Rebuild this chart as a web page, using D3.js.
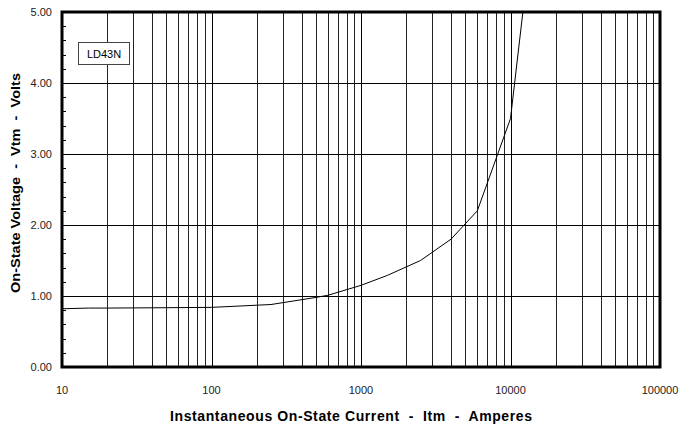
<!DOCTYPE html>
<html><head><meta charset="utf-8">
<script src="https://d3js.org/d3.v7.min.js"></script>
<style>body{margin:0;background:#fff}svg text{font-family:"Liberation Sans",Arial,sans-serif;white-space:pre}</style>
</head><body><svg id="c" width="680" height="427"></svg>
<script>
const current = [10,15,20,50,100,250,500,600,1000,1500,2500,4000,6000,10000,12100];
const voltage = [0.82,0.83,0.83,0.835,0.84,0.88,0.98,1.01,1.15,1.29,1.50,1.80,2.2,3.5,5.0];
const xTicks = [10,100,1000,10000,100000];
const yTicks = [0,1,2,3,4,5];
const deviceLabel = "LD43N";
const xTitle = "Instantaneous On-State Current  -  Itm  -  Amperes";
const yTitle = "On-State Voltage  -  Vtm  -  Volts";

const svg = d3.select("#c");
const L=62,R=660,T=12,B=367;
const x = d3.scaleLog().domain([10,100000]).range([L,R]);
const y = d3.scaleLinear().domain([0,5]).range([B,T]);

// vertical grid
const minor=[];
for(let d=10; d<100000; d*=10) for(let k=2;k<=9;k++) minor.push(d*k);
svg.append("g").selectAll("line").data(minor).join("line")
  .attr("x1",d=>Math.round(x(d))+0.5).attr("x2",d=>Math.round(x(d))+0.5)
  .attr("y1",T).attr("y2",B).attr("stroke","#222").attr("stroke-width",1);
svg.append("g").selectAll("line").data(xTicks).join("line")
  .attr("x1",d=>Math.round(x(d))+0.5).attr("x2",d=>Math.round(x(d))+0.5)
  .attr("y1",T).attr("y2",B).attr("stroke","#000").attr("stroke-width",1);
// horizontal grid
svg.append("g").selectAll("line").data(yTicks).join("line")
  .attr("x1",L).attr("x2",R).attr("y1",d=>Math.round(y(d))+0.5).attr("y2",d=>Math.round(y(d))+0.5)
  .attr("stroke","#000").attr("stroke-width",1);
// minor y ticks
const yMinor = d3.range(0,5.001,0.2).filter(v=>Math.abs(v-Math.round(v))>1e-6);
svg.append("g").selectAll("line").data(yMinor).join("line")
  .attr("x1",L).attr("x2",L+4).attr("y1",d=>Math.round(y(d))+0.5).attr("y2",d=>Math.round(y(d))+0.5)
  .attr("stroke","#000");

// curve
svg.append("clipPath").attr("id","clip").append("rect").attr("x",L).attr("y",T).attr("width",R-L).attr("height",B-T);
const pts = current.map((c,i)=>[c,voltage[i]]);
svg.append("path").datum(pts).attr("clip-path","url(#clip)")
  .attr("d",d3.line().x(d=>x(d[0])).y(d=>y(d[1])))
  .attr("fill","none").attr("stroke","#000").attr("stroke-width",1);

// frame
svg.append("rect").attr("x",L).attr("y",T).attr("width",R-L).attr("height",B-T)
  .attr("fill","none").attr("stroke","#000").attr("stroke-width",3);

// axis labels
svg.append("g").selectAll("text").data(yTicks).join("text")
  .attr("x",52).attr("y",d=>y(d)+4).attr("text-anchor","end")
  .attr("font-size",11).attr("fill","#222").text(d=>d.toFixed(2));
svg.append("g").selectAll("text").data(xTicks).join("text")
  .attr("x",d=>x(d)).attr("y",394).attr("text-anchor","middle")
  .attr("font-size",11).attr("fill","#222").text(d=>d);

svg.append("text").attr("x",170).attr("y",421)
  .attr("font-size",14).attr("font-weight","bold")
  .attr("textLength",362).attr("lengthAdjust","spacing").text(xTitle);
svg.append("text").attr("transform","translate(20,293) rotate(-90)")
  .attr("font-size",12).attr("font-weight","bold")
  .attr("textLength",220).attr("lengthAdjust","spacingAndGlyphs").text(yTitle);

// device label box
svg.append("rect").attr("x",78.5).attr("y",42.5).attr("width",51).attr("height",22)
  .attr("fill","#fff").attr("stroke","#444").attr("stroke-width",1);
svg.append("text").attr("x",104).attr("y",58).attr("text-anchor","middle")
  .attr("font-size",11).text(deviceLabel);
</script></body></html>
